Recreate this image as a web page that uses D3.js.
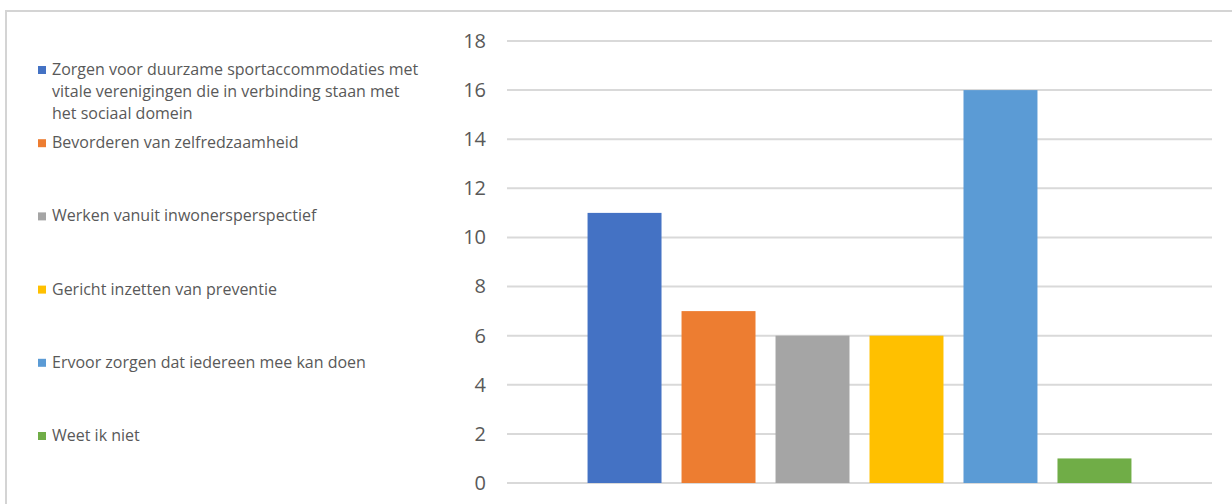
<!DOCTYPE html>
<html>
<head>
<meta charset="utf-8">
<script src="https://cdn.jsdelivr.net/npm/d3@7"></script>
<style>
  html, body { margin: 0; padding: 0; background: #ffffff; overflow: hidden; width: 1232px; height: 504px; }
  svg { display: block; }
</style>
</head>
<body>
<svg id="chart" width="1232" height="504"></svg>
<script>
// Series (one bar each) and their counts
const seriesNames = [
  "Zorgen voor duurzame sportaccommodaties met vitale verenigingen die in verbinding staan met het sociaal domein",
  "Bevorderen van zelfredzaamheid",
  "Werken vanuit inwonersperspectief",
  "Gericht inzetten van preventie",
  "Ervoor zorgen dat iedereen mee kan doen",
  "Weet ik niet"
];
const legendLines = [
  ["Zorgen voor duurzame sportaccommodaties met", "vitale verenigingen die in verbinding staan met", "het sociaal domein"],
  ["Bevorderen van zelfredzaamheid"],
  ["Werken vanuit inwonersperspectief"],
  ["Gericht inzetten van preventie"],
  ["Ervoor zorgen dat iedereen mee kan doen"],
  ["Weet ik niet"]
];
const seriesValues = [11, 7, 6, 6, 16, 1];
const seriesColors = ["#4472C4", "#ED7D31", "#A5A5A5", "#FFC000", "#5B9BD5", "#70AD47"];
const yTicks = [0, 2, 4, 6, 8, 10, 12, 14, 16, 18];

const svg = d3.select("#chart");
const textColor = "#595959";

// White background
svg.append("rect")
  .attr("x", 0).attr("y", 0)
  .attr("width", 1232).attr("height", 504)
  .attr("fill", "#ffffff");

// Chart frame: top and left edges
svg.append("path")
  .attr("d", "M6,504 V11 H1232")
  .attr("fill", "none")
  .attr("stroke", "#d4d4d4")
  .attr("stroke-width", 2);

// Plot area
const plot = { left: 507, right: 1212, top: 41, bottom: 483 };

const y = d3.scaleLinear().domain([0, 18]).range([plot.bottom, plot.top]);
const x = d3.scaleBand()
  .domain(d3.range(seriesValues.length))
  .range([plot.left, plot.right])
  .paddingInner(0.213)
  .paddingOuter(0.857);

// Horizontal gridlines
svg.append("g")
  .selectAll("line")
  .data(yTicks)
  .join("line")
  .attr("x1", plot.left).attr("x2", plot.right)
  .attr("y1", d => y(d)).attr("y2", d => y(d))
  .attr("stroke", "#d9d9d9")
  .attr("stroke-width", 2);

// Y axis labels
const yAxis = d3.axisLeft(y).tickValues(yTicks).tickSize(0).tickPadding(0);
const yg = svg.append("g")
  .attr("transform", `translate(${486},0)`)
  .call(yAxis);
yg.select(".domain").remove();
yg.selectAll("text")
  .attr("fill", textColor)
  .style("font-family", "'Open Sans', sans-serif")
  .style("font-size", "20px");

// Bars
svg.append("g")
  .selectAll("rect")
  .data(seriesValues)
  .join("rect")
  .attr("x", (d, i) => x(i))
  .attr("width", x.bandwidth())
  .attr("y", d => y(d))
  .attr("height", d => y(0) - y(d))
  .attr("fill", (d, i) => seriesColors[i]);

// Legend
const legend = svg.append("g");
const itemTop = 75, itemStep = 73.2, lineStep = 22;
legendLines.forEach((lines, i) => {
  const base = itemTop + i * itemStep;
  legend.append("rect")
    .attr("x", 38).attr("y", base - 9)
    .attr("width", 8).attr("height", 8)
    .attr("fill", seriesColors[i]);
  const t = legend.append("text")
    .attr("fill", textColor)
    .style("font-family", "'Open Sans', sans-serif")
    .style("font-size", "16px");
  lines.forEach((ln, j) => {
    t.append("tspan").attr("x", 52).attr("y", base + j * lineStep).text(ln);
  });
});
</script>
</body>
</html>
